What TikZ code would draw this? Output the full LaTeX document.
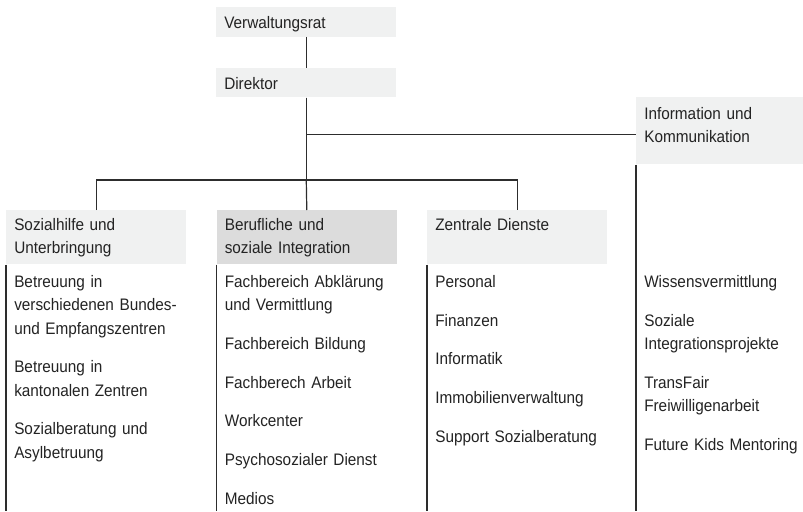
\documentclass[tikz,border=0pt]{standalone}
\usepackage{fontspec}
\setmainfont{Liberation Sans}[FakeStretch=0.92]
\usepackage{xcolor}
\definecolor{boxgray}{RGB}{240,241,241}
\definecolor{midgray}{RGB}{220,220,220}
\definecolor{inkgray}{RGB}{35,35,35}
\definecolor{linegray}{RGB}{45,45,45}
\usepackage{tikz}
\usetikzlibrary{positioning,calc}

\begin{document}
\begin{tikzpicture}[
  node distance=23.25pt and 22.5pt,
  boxhead/.style={rectangle,fill=boxgray,anchor=north west,inner xsep=6pt,
    inner ysep=0pt,text width=123pt,align=left,text height=15pt,text depth=25.5pt,
    font=\fontsize{12.5pt}{17.5pt}\selectfont\color{inkgray}},
  boxtop/.style={boxhead,text height=16pt,text depth=6pt},
  itemlist/.style={anchor=base west,inner sep=0pt,text width=128pt,align=left,
    font=\fontsize{12.5pt}{17.5pt}\selectfont\color{inkgray}},
  orgline/.style={draw=linegray,line width=0.9pt}
]
  \useasboundingbox (0,0) rectangle (602.25pt,-383.25pt);
  \coordinate (bottom) at (0,-383.25pt);

  \node[boxtop] (vr) at (162pt,-5.25pt) {Verwaltungsrat};
  \node[boxtop,below=of vr] (dir) {Direktor};
  \node[boxhead,text width=113.25pt,text height=16.5pt,text depth=33.75pt]
    (info) at (477pt,-72.75pt) {Information und\\Kommunikation};

  \node[boxhead] (soz) at (4.5pt,-157.5pt) {Sozialhilfe und\\Unterbringung};
  \node[boxhead,fill=midgray,right=of soz] (ber) {Berufliche und\\soziale Integration};
  \node[boxhead,right=of ber] (zen) {Zentrale Dienste};

  \coordinate (bus) at (dir.south |- 0,-135pt);
  \draw[orgline] (vr.south) -- (dir.north);
  \draw[orgline] (dir.south) |- ([yshift=-2.5pt]info.west);
  \draw[orgline] (dir.south) -- (bus);
  \draw[orgline] (soz.north) |- (bus) -| (zen.north);
  \draw[orgline] (bus) -- (ber.north);

  \draw[orgline] (soz.south west) -- (soz.south west |- bottom);
  \draw[orgline] (ber.south west) -- (ber.south west |- bottom);
  \draw[orgline] (zen.south west) -- (zen.south west |- bottom);
  \draw[orgline] (info.south west) -- (info.south west |- bottom);

  \node[itemlist] (sozlist) at ([xshift=6pt,yshift=-17.25pt]soz.south west)
    {Betreuung in\\verschiedenen Bundes-\\und Empfangszentren\\[11.5pt]
     Betreuung in\\kantonalen Zentren\\[11.5pt]
     Sozialberatung und\\Asylbetruung};
  \node[itemlist] (berlist) at ([xshift=6pt,yshift=-17.25pt]ber.south west)
    {Fachbereich Abklärung\\und Vermittlung\\[11.5pt]
     Fachbereich Bildung\\[11.5pt]
     Fachberech Arbeit\\[11.5pt]
     Workcenter\\[11.5pt]
     Psychosozialer Dienst\\[11.5pt]
     Medios};
  \node[itemlist] (zenlist) at ([xshift=6pt,yshift=-17.25pt]zen.south west)
    {Personal\\[11.5pt]
     Finanzen\\[11.5pt]
     Informatik\\[11.5pt]
     Immobilienverwaltung\\[11.5pt]
     Support Sozialberatung};
  \node[itemlist] (infolist) at ([xshift=6pt,yshift=-92.25pt]info.south west)
    {Wissensvermittlung\\[11.5pt]
     Soziale\\Integrationsprojekte\\[11.5pt]
     TransFair\\Freiwilligenarbeit\\[11.5pt]
     Future Kids Mentoring};
\end{tikzpicture}
\end{document}
